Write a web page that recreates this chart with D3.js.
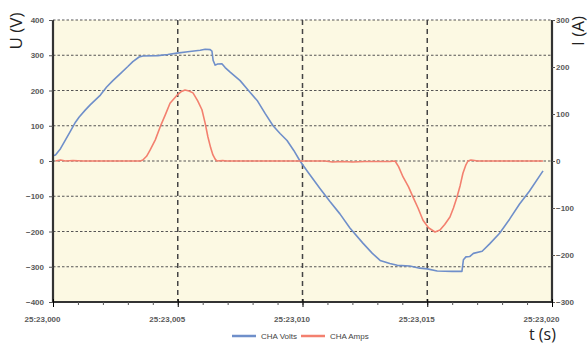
<!DOCTYPE html>
<html><head><meta charset="utf-8">
<script src="https://cdnjs.cloudflare.com/ajax/libs/d3/7.8.5/d3.min.js"></script>
<style>
html,body{margin:0;padding:0;background:#fff;}
svg{display:block;}
</style></head>
<body><svg id="chart" width="588" height="345"></svg>
<script>
// time in ms after 25:23,000
const voltsT = [0.0,0.1,0.3,0.5,0.7,0.9,1.05,1.3,1.5,1.9,2.15,2.4,2.7,3.0,3.2,3.45,3.6,4.2,4.6,4.97,5.4,5.9,6.1,6.3,6.37,6.42,6.5,6.6,6.77,6.9,7.1,7.5,7.8,8.2,8.5,8.82,9.1,9.38,9.65,9.9,10.2,10.7,11.1,11.5,11.9,12.42,12.8,13.11,13.5,13.8,14.3,14.7,15.0,15.4,16.0,16.39,16.45,16.55,16.7,16.85,17.2,17.5,17.9,18.3,18.7,19.1,19.64];
const voltsV = [15,17,35,60,85,110,125,145,160,187,210,228,248,268,282,295,298,299,302,306,310,314,317,316,312,285,272,275,276,265,252,228,203,170,135,100,78,58,30,0,-30,-78,-115,-150,-190,-233,-262,-282,-291,-296,-298,-304,-306,-312,-313,-313,-280,-272,-271,-262,-256,-235,-205,-165,-122,-85,-28];
const ampsT = [0.1,0.3,0.5,0.8,1.2,2.0,3.0,3.5,3.6,3.75,3.89,4.1,4.29,4.5,4.69,4.97,5.15,5.29,5.45,5.61,5.8,5.97,6.1,6.21,6.32,6.41,6.5,6.57,6.8,6.97,8.0,10.9,11.2,11.6,12.0,12.5,13.0,13.5,13.71,13.85,14.03,14.25,14.43,14.63,14.83,15.05,15.31,15.51,15.7,15.91,16.05,16.19,16.32,16.43,16.55,16.63,16.75,16.9,17.0,19.64];
const ampsA = [0,2,0,1,0,0,0,0,2,10,23,45,72,98,123,140,148,151,149,145,128,109,80,51,28,13,4,0,1,0,0,0,-2,-1,-2,-1,-1,-1,0,-12,-34,-55,-77,-100,-126,-142,-151,-147,-135,-119,-100,-77,-52,-26,-8,0,2,1,0,0];
const xTickValues = [0,5,10,15,20];
const xTickLabels = ["25:23,000","25:23,005","25:23,010","25:23,015","25:23,020"];
const leftTicks = [400,300,200,100,0,-100,-200,-300,-400];
const rightTicks = [300,200,100,0,-100,-200,-300];
const seriesNames = ["CHA Volts","CHA Amps"];
const seriesColors = ["#6f8fca","#f3806f"];

const svg = d3.select("#chart");
const L=53,R=552,T=20,B=302;
const x = d3.scaleLinear().domain([0,20]).range([L,R]);
const yL = d3.scaleLinear().domain([-400,400]).range([B,T]);
const yR = d3.scaleLinear().domain([-300,300]).range([B,T]);

svg.append("rect").attr("x",L).attr("y",T).attr("width",R-L).attr("height",B-T).attr("fill","#fcf9e3");

// horizontal grid (dotted)
svg.append("g").selectAll("line").data(leftTicks.filter(d=>d>-400)).join("line")
  .attr("x1",L).attr("x2",R).attr("y1",d=>yL(d)).attr("y2",d=>yL(d))
  .attr("stroke","#555").attr("stroke-width",1.1).attr("stroke-dasharray","2.5,2");
// vertical grid (dashed)
svg.append("g").selectAll("line").data(xTickValues.filter(d=>d>0&&d<20)).join("line")
  .attr("x1",d=>x(d)).attr("x2",d=>x(d)).attr("y1",T).attr("y2",B)
  .attr("stroke","#444").attr("stroke-width",1.5).attr("stroke-dasharray","5,4");

// lines
const lineV = d3.line().x((d,i)=>x(voltsT[i])).y(d=>yL(d));
const lineA = d3.line().x((d,i)=>x(ampsT[i])).y(d=>yR(d));
svg.append("path").attr("d",lineV(voltsV)).attr("fill","none").attr("stroke",seriesColors[0]).attr("stroke-width",1.6).attr("stroke-linejoin","round");
svg.append("path").attr("d",lineA(ampsA)).attr("fill","none").attr("stroke",seriesColors[1]).attr("stroke-width",1.6).attr("stroke-linejoin","round");

// axes
const tickFont = "Liberation Sans, Arial, sans-serif";
const gL = svg.append("g").attr("transform",`translate(${L},0)`)
  .call(d3.axisLeft(yL).tickValues(leftTicks).tickSize(4).tickPadding(5).tickFormat(d3.format("d")));
const gR = svg.append("g").attr("transform",`translate(${R},0)`)
  .call(d3.axisRight(yR).tickValues(rightTicks).tickSize(3).tickPadding(1).tickFormat(d3.format("d")));
const gB = svg.append("g").attr("transform",`translate(0,${B})`)
  .call(d3.axisBottom(x).tickValues(d3.range(0,21,1)).tickSize(3).tickFormat(()=>""));
svg.append("g").attr("transform",`translate(0,${B})`)
  .call(d3.axisBottom(x).tickValues(xTickValues).tickSize(5).tickPadding(9).tickFormat((d,i)=>xTickLabels[i]))
  .call(g=>g.select(".domain").remove())
  .call(g=>g.selectAll(".tick line").attr("y1",-3))
  .call(g=>g.selectAll(".tick text").attr("dx",-11));
[gL,gR,gB].forEach(g=>{
  g.select(".domain").attr("stroke","#333").attr("stroke-width",2.2);
  g.selectAll(".tick line").attr("stroke","#555");
});
gB.select(".domain").attr("d",`M${L},0H${R}`);
gL.select(".domain").attr("d",`M0,${T}V${B}`);
gR.select(".domain").attr("d",`M0,${T}V${B}`);
svg.selectAll(".tick text").attr("font-family",tickFont).attr("font-size",8).attr("fill","#5a5a5a").attr("font-weight","bold");
svg.selectAll("g").attr("font-family",tickFont);

// axis titles
svg.append("text").attr("transform","translate(22,31) rotate(-90)").attr("text-anchor","middle")
  .attr("font-family","Open Sans, sans-serif").attr("font-size",17).attr("fill","#222").text("U (V)");
svg.append("text").attr("transform","translate(584,31) rotate(-90)").attr("text-anchor","middle")
  .attr("font-family","Open Sans, sans-serif").attr("font-size",17).attr("fill","#222").text("I (A)");
svg.append("text").attr("x",529).attr("y",340)
  .attr("font-family","Open Sans, sans-serif").attr("font-size",16).attr("fill","#222").text("t (s)");

// legend
const legX = [232,301];
seriesNames.forEach((n,i)=>{
  svg.append("line").attr("x1",legX[i]).attr("x2",legX[i]+24).attr("y1",336).attr("y2",336)
    .attr("stroke",seriesColors[i]).attr("stroke-width",2.5);
  svg.append("text").attr("x",legX[i]+29).attr("y",339).attr("font-family",tickFont)
    .attr("font-size",8).attr("fill","#444").text(n);
});
</script></body></html>
